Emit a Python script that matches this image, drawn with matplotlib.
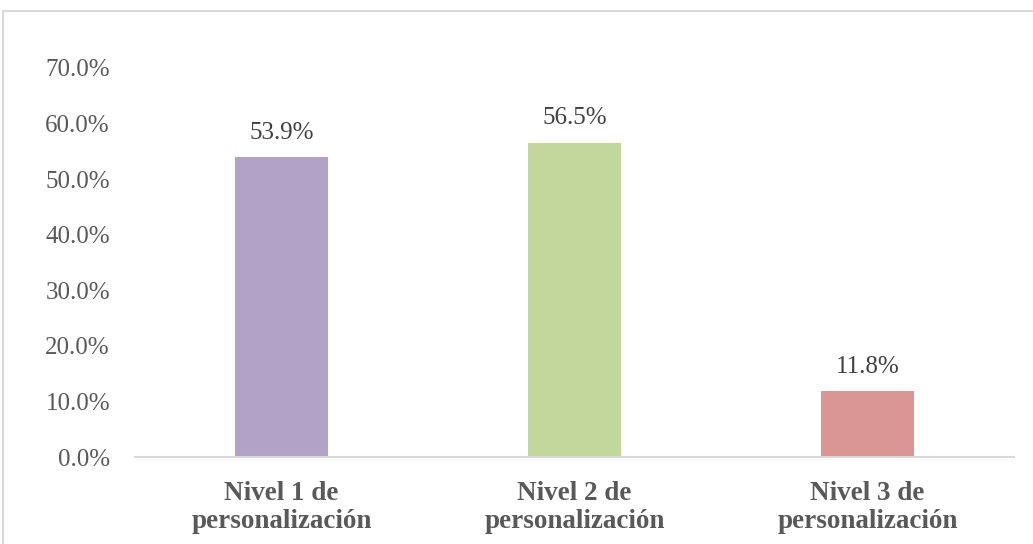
import matplotlib

matplotlib.use("Agg")
import matplotlib.pyplot as plt
from matplotlib.patches import Rectangle
from matplotlib.ticker import FuncFormatter

categories = ["Nivel 1 de\npersonalización", "Nivel 2 de\npersonalización", "Nivel 3 de\npersonalización"]
values = [53.9, 56.5, 11.8]
colors = ["#B3A2C7", "#C3D69B", "#D99694"]

plt.rcParams["font.family"] = ["Liberation Serif", "DejaVu Serif"]

W, H = 1033, 544
fig = plt.figure(figsize=(W / 100, H / 100), dpi=100)
ax = fig.add_axes([135 / W, 1 - 457 / H, 879 / W, 389 / H])

x = range(len(values))
bars = ax.bar(x, values, width=0.314, color=colors)
for b, v in zip(bars, values):
    ax.annotate(f"{v:.1f}%", (b.get_x() + b.get_width() / 2, v),
                xytext=(0, 10), textcoords="offset points",
                ha="center", va="bottom", fontsize=18, color="#404040")

ax.set_xlim(-0.5, 2.5)
ax.set_ylim(0, 70)
ax.set_yticks(range(0, 71, 10))
ax.yaxis.set_major_formatter(FuncFormatter(lambda v, _: f"{v:.1f}%"))
ax.set_xticks(list(x))
ax.set_xticklabels(categories, fontsize=19.5, fontweight="bold", color="#595959",
                   linespacing=1.2)
ax.tick_params(axis="y", length=0, labelsize=18, labelcolor="#595959", pad=18)
ax.tick_params(axis="x", length=0, pad=17)
for s in ["top", "right", "left"]:
    ax.spines[s].set_visible(False)
ax.spines["bottom"].set_color("#D9D9D9")
ax.spines["bottom"].set_linewidth(1.5)

# chart-area border (cut off at right and bottom in the original)
fig.patches.append(Rectangle((3 / W, -0.05), 1.1, 1 - 11 / H + 0.05,
                             transform=fig.transFigure, fill=False,
                             edgecolor="#D9D9D9", linewidth=1.5))

fig.savefig("out.png", dpi=100)
